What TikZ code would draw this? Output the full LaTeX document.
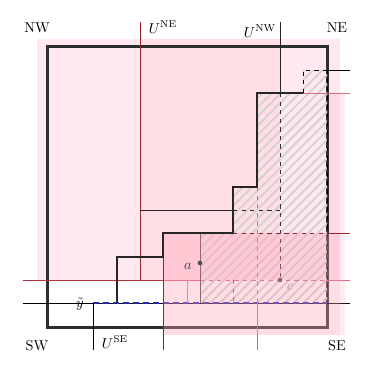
\documentclass[tikz,border=0pt]{standalone}
\usetikzlibrary{patterns.meta}
\definecolor{pinkA}{RGB}{255,160,180}
\definecolor{darkredc}{RGB}{150,35,45}
\definecolor{redc}{RGB}{175,50,65}
\definecolor{lightredc}{RGB}{220,100,120}
\definecolor{pinkline}{RGB}{215,110,125}
\definecolor{hatchgray}{RGB}{210,210,210}
\definecolor{myblue}{RGB}{40,40,170}
\definecolor{sqgray}{RGB}{45,45,45}
\begin{document}
\begin{tikzpicture}[x=0.7pt,y=-0.7pt,
  thinl/.style={line width=0.55pt},
  stair/.style={line width=1.05pt, black!85},
  regionA/.style={fill=pinkA, opacity=0.23},
  regionB/.style={fill=pinkA, opacity=0.15},
  regionC/.style={fill=pinkA, opacity=0.2},
  dot/.style={circle, fill=black!70, inner sep=0pt, minimum size=3.2pt},
  lbl/.style={inner sep=1pt}]
\useasboundingbox (0,0) rectangle (374,374);

% background regions
\fill[regionA] (37,39) rectangle (340,280);
\fill[regionB] (140,39) rectangle (280,280);
\fill[regionC] (327,93) rectangle (345,233);

% thick square
\draw[line width=2.1pt, sqgray] (47,47) rectangle (327,327);

% hatched region
\fill[pattern={Lines[angle=45,distance=4.6pt,line width=1.3pt]}, pattern color=hatchgray]
  (200,233) -- (233,233) -- (233,187) -- (257,187) -- (257,93) -- (303,93)
  -- (303,70) -- (327,70) -- (327,303) -- (200,303) -- cycle;
\draw[thinl, dashed, black] (327,70) -- (327,303);

% lines below the SE overlay
\draw[thinl, black] (23,303) -- (350,303);
\draw[myblue, line width=1.3pt, dash pattern=on 4pt off 3pt] (93,303) -- (327,303);
\draw[thinl, redc] (23,280) -- (163,280);
\draw[thinl, lightredc] (163,280) -- (200,280);
\draw[thinl, lightredc, dashed] (200,280) -- (327,280);
\draw[thinl, lightredc] (327,280) -- (350,280);
\draw[thinl, lightredc, dashed] (257,187) -- (257,303);
\draw[thinl, lightredc] (257,303) -- (257,350);
\draw[thinl, black!80, dashed] (280,93) -- (280,280);
\draw[thinl, black!40] (187,280) -- (187,303);
\draw[thinl, black!60, dashed] (233,280) -- (233,303);
\draw[thinl, black!70] (200,233) -- (200,303);
\node[dot] (c) at (280,280) {};
\node[lbl, text=black!45] (clbl) at (290,287) {$c$};

% SE overlay
\fill[regionC] (163,233) rectangle (345,335);
\fill[regionC] (163,233) rectangle (340,335);

% lines above
\draw[thinl, darkredc] (140,22) -- (140,280);
\draw[thinl, black!85] (280,22) -- (280,93);
\draw[thinl, black!85] (140,210) -- (233,210);
\draw[thinl, black!85, dashed] (233,210) -- (280,210);
\draw[thinl, pinkline] (257,93) -- (350,93);
\draw[thinl, darkredc] (163,233) -- (163,350);
\draw[thinl, darkredc, dashed] (233,233) -- (327,233);
\draw[thinl, darkredc] (327,233) -- (350,233);
\draw[thinl, black] (93,303) -- (93,350);
\draw[stair] (117,303) -- (117,257) -- (163,257) -- (163,233) -- (233,233)
  -- (233,187) -- (257,187) -- (257,93) -- (303,93);
\draw[thinl, black, dashed] (303,93) -- (303,70) -- (327,70);
\draw[thinl, black] (327,70) -- (350,70);

\node[dot] (a) at (200,263) {};
\node[lbl, text=black!75] (albl) at (188,266) {$a$};

% labels
\node (nw) at (37,28) {NW};
\node (ne) at (337,28) {NE};
\node (sw) at (37,346) {SW};
\node (se) at (337,346) {SE};
\node (une) at (163,27) {$U^{\mathrm{NE}}$};
\node (unw) at (260,31) {$U^{\mathrm{NW}}$};
\node (use) at (115,342) {$U^{\mathrm{SE}}$};
\node (yt) at (80,304) {$\tilde{y}$};
\end{tikzpicture}
\end{document}
